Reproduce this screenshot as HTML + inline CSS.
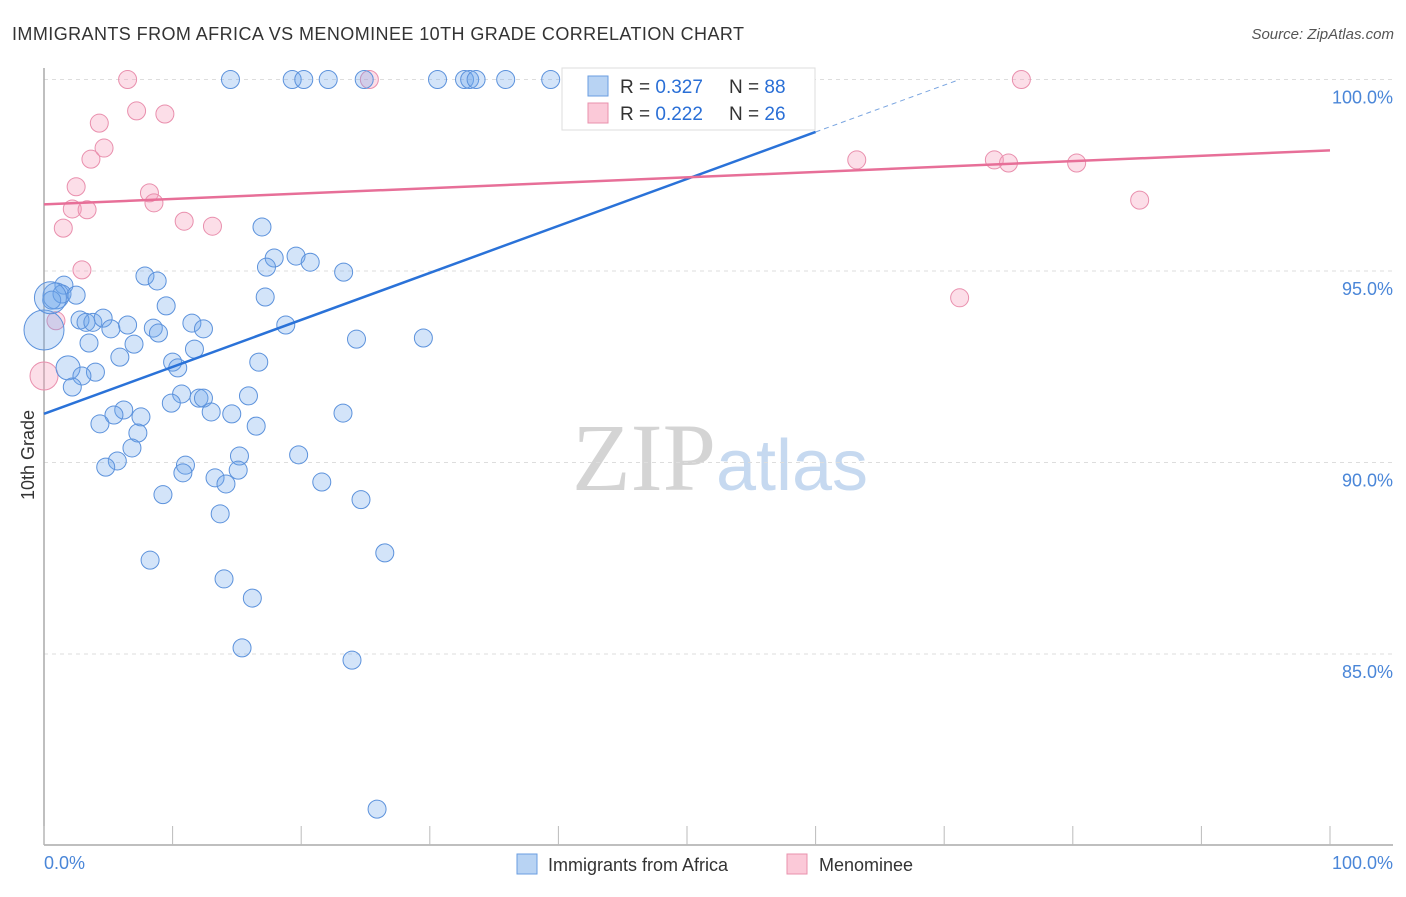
<!DOCTYPE html>
<html><head><meta charset="utf-8"><style>
body{margin:0;background:#fff;font-family:"Liberation Sans",sans-serif;}
svg text{font-family:"Liberation Sans",sans-serif;}
</style></head><body>
<svg id="chart" width="1406" height="892" xmlns="http://www.w3.org/2000/svg">
<text x="12" y="40" font-size="18" fill="#333" textLength="732" lengthAdjust="spacing">IMMIGRANTS FROM AFRICA VS MENOMINEE 10TH GRADE CORRELATION CHART</text>
<text x="1394" y="39" font-size="15" fill="#555" font-style="italic" text-anchor="end">Source: ZipAtlas.com</text>
<text x="720" y="490" font-size="96" text-anchor="middle"><tspan fill="#d4d4d4" font-family="Liberation Serif">ZIP</tspan><tspan fill="#c6d9f0" font-size="72">atlas</tspan></text>
<text transform="translate(34,455) rotate(-90)" font-size="18" fill="#333" text-anchor="middle">10th Grade</text>
<g id="grid"></g>
<g id="axes"></g>
<g id="pinkpts"></g>
<g id="bluepts"></g>
<g id="lines"></g>
<g>
<rect x="562" y="68" width="253" height="62" fill="#fff" stroke="#ddd"/>
<rect x="588" y="76" width="20" height="20" fill="#b8d3f3" stroke="#6a9ee0"/>
<text x="620" y="93" font-size="19" fill="#333">R = <tspan fill="#2a6fd6">0.327</tspan></text>
<text x="729" y="93" font-size="19" fill="#333">N = <tspan fill="#2a6fd6">88</tspan></text>
<rect x="588" y="103" width="20" height="20" fill="#fbc9d8" stroke="#e891ad"/>
<text x="620" y="120" font-size="19" fill="#333">R = <tspan fill="#2a6fd6">0.222</tspan></text>
<text x="729" y="120" font-size="19" fill="#333">N = <tspan fill="#2a6fd6">26</tspan></text>
</g>
<g>
<rect x="517" y="854" width="20" height="20" fill="#b8d3f3" stroke="#6a9ee0"/>
<text x="548" y="871" font-size="18" fill="#333">Immigrants from Africa</text>
<rect x="787" y="854" width="20" height="20" fill="#fbc9d8" stroke="#e891ad"/>
<text x="819" y="871" font-size="18" fill="#333">Menominee</text>
</g>
</svg>
<script>
const blueX=[14.5,19.3,20.2,22.1,24.9,30.6,32.7,33.1,33.6,35.9,39.4,54.7,
16.95,19.6,17.9,20.7,17.3,23.3,7.85,8.8,17.2,9.5,1.55,0.93,1.4,2.5,0.6,2.8,3.27,3.8,4.6,5.2,6.5,8.5,8.9,11.5,12.4,18.8,3.5,7.0,24.3,29.5,11.7,5.9,10.0,10.4,16.7,1.87,4.0,2.95,2.2,10.7,15.9,9.9,12.05,12.4,6.2,5.44,7.54,13.0,14.6,23.25,4.35,16.5,7.3,6.84,15.2,19.8,5.7,4.8,11.0,10.8,15.1,13.3,14.15,21.6,9.25,24.65,13.7,26.5,8.25,14.0,16.2,15.4,23.95,25.9,0,0.5];
const blueY=[100,100,100,100,100,100,100,100,100,100,100,100,
96.15,95.39,95.34,95.23,95.10,94.97,94.87,94.74,94.32,94.09,94.63,94.35,94.40,94.37,94.24,93.72,93.66,93.66,93.77,93.49,93.59,93.51,93.38,93.64,93.49,93.59,93.12,93.09,93.22,93.25,92.96,92.75,92.62,92.47,92.62,92.47,92.36,92.26,91.97,91.79,91.74,91.55,91.68,91.68,91.37,91.24,91.19,91.32,91.27,91.29,91.01,90.95,90.77,90.38,90.17,90.20,90.04,89.88,89.93,89.73,89.80,89.60,89.44,89.49,89.16,89.03,88.66,87.64,87.45,86.96,86.46,85.16,84.84,80.95,93.46,94.3];
const blueR=[9,9,9,9,9,9,9,9,9,9,9,9,9,9,9,9,9,9,9,9,9,9,9,13,9,9,9,9,9,9,9,9,9,9,9,9,9,9,9,9,9,9,9,9,9,9,9,12,9,9,9,9,9,9,9,9,9,9,9,9,9,9,9,9,9,9,9,9,9,9,9,9,9,9,9,9,9,9,9,9,9,9,9,9,9,9,20,16];
const pinkX=[6.5,25.3,76.0,7.2,9.4,4.3,4.67,3.65,2.5,8.2,8.55,2.2,3.35,1.5,10.9,13.1,2.95,0.93,0,63.2,73.9,75.0,80.3,85.2,71.2];
const pinkY=[100,100,100,99.18,99.1,98.86,98.21,97.92,97.2,97.04,96.78,96.62,96.6,96.12,96.3,96.17,95.03,93.7,92.26,97.9,97.9,97.82,97.82,96.85,94.3];
const yTicks=[100,95,90,85];
const yTickLabels=["100.0%","95.0%","90.0%","85.0%"];
const xTicks=[0,10,20,30,40,50,60,70,80,90,100];
const blueTrend=[91.27,98.63,100];
const blueTrendX=[0,60,71.2];
const pinkTrend=[96.74,98.15];
const pinkTrendX=[0,100];
const NS="http://www.w3.org/2000/svg";
const X=v=>44+v*12.86;
const Y=v=>79.5+(100-v)*38.3;
function mk(tag,attrs,parent){const e=document.createElementNS(NS,tag);for(const k in attrs)e.setAttribute(k,attrs[k]);parent.appendChild(e);return e;}
const grid=document.getElementById('grid'),axes=document.getElementById('axes');
yTicks.forEach((t,i)=>{
 const l=mk('line',{x1:44,x2:1393,y1:Y(t),y2:Y(t),stroke:'#ddd','stroke-dasharray':'4,4'},grid);
 
 
 const tx=mk('text',{x:1393,y:Y(t)+24,'font-size':18,fill:'#4a86d8','text-anchor':'end'},axes);
 tx.textContent=yTickLabels[i];
 
 
});
const ya=mk('line',{x1:44,x2:44,y1:68,y2:845,stroke:'#aaa','stroke-width':1.5},axes);


const xa=mk('line',{x1:44,x2:1393,y1:845,y2:845,stroke:'#aaa','stroke-width':1.5},axes);


xTicks.forEach(t=>{
 const l=mk('line',{x1:X(t),x2:X(t),y1:826,y2:845,stroke:'#bbb'},axes);
 
 
});
const xl0=mk('text',{x:44,y:869,'font-size':18,fill:'#4a86d8'},axes);xl0.textContent='0.0%';


const xl1=mk('text',{x:1393,y:869,'font-size':18,fill:'#4a86d8','text-anchor':'end'},axes);xl1.textContent='100.0%';


const pg=document.getElementById('pinkpts');
pinkX.forEach((x,i)=>{
 const c=mk('circle',{cx:X(x),cy:Y(pinkY[i]),r:(x===0?14:9),fill:'rgba(246,160,188,0.35)',stroke:'#e98fad','stroke-width':1},pg);
 
 
});
const bg=document.getElementById('bluepts');
blueX.forEach((x,i)=>{
 const c=mk('circle',{cx:X(x),cy:Y(blueY[i]),r:blueR[i],fill:'rgba(110,165,235,0.3)',stroke:'#5c92dc','stroke-width':1},bg);
 
 
});
const lg=document.getElementById('lines');
const b1=mk('line',{x1:X(blueTrendX[0]),y1:Y(blueTrend[0]),x2:X(blueTrendX[1]),y2:Y(blueTrend[1]),stroke:'#2a72d8','stroke-width':2.5},lg);


const b2=mk('line',{x1:X(blueTrendX[1]),y1:Y(blueTrend[1]),x2:X(blueTrendX[2]),y2:Y(blueTrend[2]),stroke:'#7aa5e0','stroke-width':1,'stroke-dasharray':'5,4'},lg);


const p1=mk('line',{x1:X(pinkTrendX[0]),y1:Y(pinkTrend[0]),x2:X(pinkTrendX[1]),y2:Y(pinkTrend[1]),stroke:'#e76f98','stroke-width':2.5},lg);


</script>
</body></html>
